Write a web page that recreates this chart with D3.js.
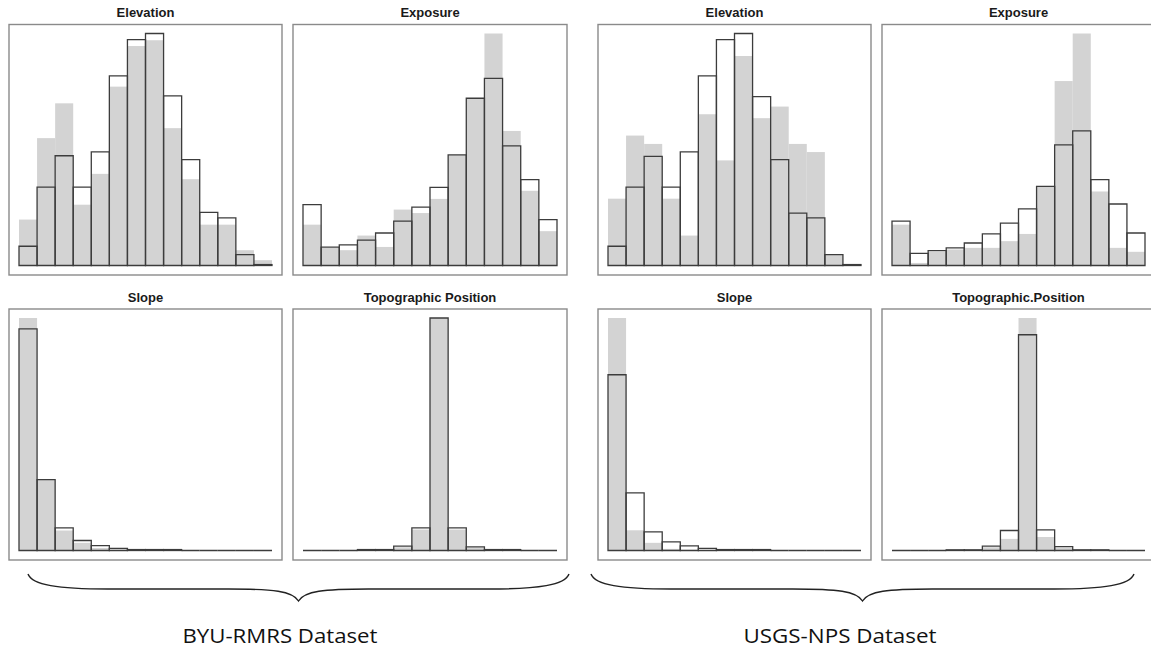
<!DOCTYPE html>
<html>
<head>
<meta charset="utf-8">
<script src="https://cdn.jsdelivr.net/npm/d3@7"></script>
<style>
  html, body { margin: 0; padding: 0; background: #fff; }
  svg { display: block; }
  .title { font-family: "Liberation Sans", Arial, sans-serif; font-weight: bold; font-size: 13px; fill: #1a1a1a; }
  .dataset { font-family: "Open Sans", "Noto Sans", sans-serif; font-size: 20px; fill: #111; }
</style>
</head>
<body>
<svg></svg>
<script>
const width = 1151;
const height = 648;

// 14 histogram bins per panel
const bins = ["b1","b2","b3","b4","b5","b6","b7","b8","b9","b10","b11","b12","b13","b14"];

// BYU-RMRS dataset (gray = filled bars, outline = bordered bars)
const byuElevGray    = [19.8, 54.9, 69.9, 26.2, 39.5, 77.1, 94.6, 97.1, 59.2, 37.2, 17.6, 17.6, 6.6, 2.3];
const byuElevOutline = [8.3, 33.8, 47.3, 33.8, 49.0, 81.7, 97.4, 100, 73.1, 45.6, 22.9, 20.5, 4.7, 0.4];
const byuExpGray     = [17.6, 7.6, 6.6, 12.9, 8.0, 24.1, 22.6, 28.7, 47.7, 72.1, 100, 58.0, 32.2, 14.8];
const byuExpOutline  = [26.2, 7.9, 8.9, 10.9, 14.0, 19.1, 25.2, 33.7, 47.7, 72.1, 80.7, 51.6, 37.0, 19.8];
const byuSlopeGray   = [100, 30.5, 8.6, 3.3, 1.1, 0.4, 0.2, 0.2, 0.2, 0, 0, 0, 0, 0];
const byuSlopeOutline= [95.3, 30.5, 9.7, 4.3, 2.1, 0.9, 0.4, 0.4, 0.4, 0, 0, 0, 0, 0];
const byuTopoGray    = [0, 0, 0, 0.3, 0.3, 1.4, 9.0, 100, 9.0, 1.3, 0.3, 0.3, 0, 0];
const byuTopoOutline = [0, 0, 0, 0.4, 0.4, 1.9, 9.7, 100, 9.7, 1.6, 0.4, 0.4, 0, 0];

// USGS-NPS dataset
const usgsElevGray    = [28.8, 56.0, 52.4, 28.8, 12.9, 65.2, 45.3, 90.3, 63.5, 68.5, 52.4, 48.9, 4.5, 0.3];
const usgsElevOutline = [8.3, 33.8, 47.0, 33.8, 49.0, 81.7, 97.4, 100, 72.8, 45.6, 22.6, 20.5, 4.7, 0.4];
const usgsExpGray     = [17.6, 1.1, 5.9, 6.9, 7.6, 7.6, 10.5, 13.6, 34.1, 79.5, 100, 31.9, 7.6, 5.9];
const usgsExpOutline  = [19.1, 5.2, 6.4, 7.6, 9.7, 13.6, 18.3, 24.4, 34.1, 52.0, 58.0, 37.0, 26.5, 14.0];
const usgsSlopeGray   = [100, 8.7, 3.3, 0.7, 0.3, 0.1, 0, 0, 0, 0, 0, 0, 0, 0];
const usgsSlopeOutline= [75.6, 24.8, 8.0, 3.7, 2.0, 0.9, 0.4, 0.4, 0.4, 0, 0, 0, 0, 0];
const usgsTopoGray    = [0, 0, 0, 0.2, 0.2, 1.4, 5.0, 100, 5.8, 1.2, 0.2, 0.2, 0, 0];
const usgsTopoOutline = [0, 0, 0, 0.3, 0.3, 1.9, 8.6, 92.8, 8.9, 1.7, 0.3, 0.3, 0, 0];

const datasetLabels = ["BYU-RMRS Dataset", "USGS-NPS Dataset"];

const panels = [
  { title: "Elevation", col: 0, row: 0, gray: byuElevGray, outline: byuElevOutline },
  { title: "Exposure", col: 1, row: 0, gray: byuExpGray, outline: byuExpOutline },
  { title: "Slope", col: 0, row: 1, gray: byuSlopeGray, outline: byuSlopeOutline },
  { title: "Topographic Position", col: 1, row: 1, gray: byuTopoGray, outline: byuTopoOutline },
  { title: "Elevation", col: 2, row: 0, gray: usgsElevGray, outline: usgsElevOutline },
  { title: "Exposure", col: 3, row: 0, gray: usgsExpGray, outline: usgsExpOutline },
  { title: "Slope", col: 2, row: 1, gray: usgsSlopeGray, outline: usgsSlopeOutline },
  { title: "Topographic.Position", col: 3, row: 1, gray: usgsTopoGray, outline: usgsTopoOutline }
];

// box geometry
const colX = [[9, 282], [293, 567], [598, 871], [882, 1155]];
const rowY = [[24.5, 275], [309, 560]];
const titleY = [17, 302];

const svg = d3.select("svg").attr("width", width).attr("height", height);

panels.forEach(p => {
  const [x0, x1] = colX[p.col];
  const [y0, y1] = rowY[p.row];
  const g = svg.append("g");

  const x = d3.scaleBand().domain(bins).range([x0 + 10, x1 - 10]).padding(0);
  const ymax = d3.max(p.gray.concat(p.outline));
  const y = d3.scaleLinear().domain([0, ymax]).range([y1 - 9.5, y0 + 9]);

  // gray filled bars, no border
  g.selectAll("rect.gray")
    .data(p.gray)
    .join("rect")
    .attr("class", "gray")
    .attr("x", (d, i) => x(bins[i]))
    .attr("width", x.bandwidth())
    .attr("y", d => y(d))
    .attr("height", d => y(0) - y(d))
    .attr("fill", "#d3d3d3");

  // outlined bars, transparent fill (zero bins still draw the base line)
  g.selectAll("path.outline")
    .data(p.outline)
    .join("path")
    .attr("class", "outline")
    .attr("d", (d, i) => {
      const a = x(bins[i]), b = a + x.bandwidth();
      return `M${a},${y(0)}V${y(d)}H${b}V${y(0)}Z`;
    })
    .attr("fill", "none")
    .attr("stroke", "#3c3c3c")
    .attr("stroke-width", 1.3);

  // panel box
  g.append("rect")
    .attr("x", x0).attr("y", y0)
    .attr("width", x1 - x0).attr("height", y1 - y0)
    .attr("fill", "none")
    .attr("stroke", "#8a8a8a")
    .attr("stroke-width", 1.4);

  g.append("text")
    .attr("class", "title")
    .attr("x", (x0 + x1) / 2)
    .attr("y", titleY[p.row])
    .attr("text-anchor", "middle")
    .text(p.title);
});

// curly braces under each dataset
function brace(a, b, yTop, yMid, yTip) {
  const m = (a + b) / 2;
  return `M${a},${yTop} C${a + 4},${yMid - 4} ${a + 30},${yMid} ${a + 80},${yMid}` +
    ` L${m - 70},${yMid} C${m - 25},${yMid} ${m - 6},${yMid + 2} ${m},${yTip}` +
    ` C${m + 6},${yMid + 2} ${m + 25},${yMid} ${m + 70},${yMid}` +
    ` L${b - 80},${yMid} C${b - 30},${yMid} ${b - 4},${yMid - 4} ${b},${yTop}`;
}

const braces = [[28, 569, 280], [591, 1134, 840]];
braces.forEach((br, i) => {
  svg.append("path")
    .attr("d", brace(br[0], br[1], 574, 589, 601))
    .attr("fill", "none")
    .attr("stroke", "#222")
    .attr("stroke-width", 1.4);

  svg.append("text")
    .attr("class", "dataset")
    .attr("x", br[2])
    .attr("y", 643)
    .attr("text-anchor", "middle")
    .attr("textLength", i === 0 ? 195 : 193)
    .attr("lengthAdjust", "spacingAndGlyphs")
    .text(datasetLabels[i]);
});
</script>
</body>
</html>
